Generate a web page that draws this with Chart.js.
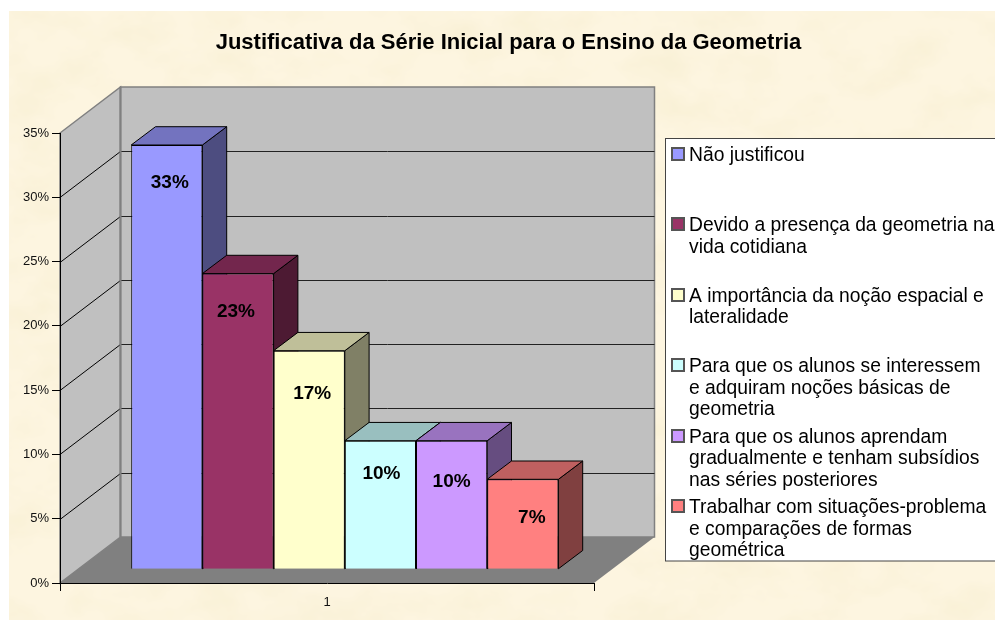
<!DOCTYPE html>
<html>
<head>
<meta charset="utf-8">
<title>Justificativa da Série Inicial</title>
<script src="https://cdn.jsdelivr.net/npm/chart.js@4"></script>
<style>
html, body { margin: 0; padding: 0; background: #fff; overflow: hidden; }
#paper {
    position: absolute; left: 9px; top: 11px; width: 986px; height: 609px;
    background-color: #fdf5e0;
    background-image: url("data:image/svg+xml,%3Csvg xmlns='http://www.w3.org/2000/svg' width='986' height='609'%3E%3Cfilter id='n'%3E%3CfeTurbulence type='fractalNoise' baseFrequency='0.016 0.024' numOctaves='4' seed='7'/%3E%3CfeColorMatrix values='0 0 0 0 0.95 0 0 0 0 0.88 0 0 0 0 0.68 2.4 0 0 0 -1'/%3E%3C/filter%3E%3Crect width='986' height='609' filter='url(%23n)'/%3E%3C/svg%3E");
}
#myChart { position: absolute; left: 0; top: 0; }
</style>
</head>
<body>
<div id="paper"></div>
<canvas id="myChart" width="995" height="621"></canvas>
<script>
// dados
const categories = ['1'];
const legendLines = [
    ['Não justificou'],
    ['Devido a presença da geometria na', 'vida cotidiana'],
    ['A importância da noção espacial e', 'lateralidade'],
    ['Para que os alunos se interessem', 'e adquiram noções básicas de', 'geometria'],
    ['Para que os alunos aprendam', 'gradualmente e tenham subsídios', 'nas séries posteriores'],
    ['Trabalhar com situações-problema', 'e comparações de formas', 'geométrica'],
];
const seriesValues = [33, 23, 17, 10, 10, 7];
const seriesColors = ['#9999ff', '#993366', '#ffffcc', '#ccffff', '#cc99ff', '#ff8080'];
const titleText = 'Justificativa da Série Inicial para o Ensino da Geometria';

// posição dos rótulos em cada barra (dx, dy a partir do topo)
const labelNudge = [[3, 37.5], [-2, 38], [3, 43], [1, 33], [0, 41.5], [9, 38]];

// perspectiva
const WALL_DX = 60.5, WALL_DY = 46;
const BAR_DX = 17.8, BAR_DY = 13.7;
const DEPTH_DX = 24.3, DEPTH_DY = 18.3;

function shade(hex, f) {
    const n = parseInt(hex.slice(1), 16);
    const c = [n >> 16, (n >> 8) & 255, n & 255].map(function (v) { return Math.round(v * f); });
    return 'rgb(' + c.join(',') + ')';
}

function poly(ctx, pts, fill, stroke, lw) {
    ctx.beginPath();
    pts.forEach(function (p, i) {
        if (i === 0) ctx.moveTo(p[0], p[1]); else ctx.lineTo(p[0], p[1]);
    });
    ctx.closePath();
    if (fill) { ctx.fillStyle = fill; ctx.fill(); }
    if (stroke) { ctx.strokeStyle = stroke; ctx.lineWidth = lw; ctx.stroke(); }
}

const box3d = {
    id: 'box3d',
    // paredes e chão
    beforeDraw(chart) {
        const ctx = chart.ctx, a = chart.chartArea, y = chart.scales.y;
        const L = a.left, R = a.right, T = a.top, B = a.bottom;
        ctx.save();
        poly(ctx, [[L, T], [L + WALL_DX, T - WALL_DY], [L + WALL_DX, B - WALL_DY], [L, B]], '#c0c0c0', '#808080', 1.5);
        poly(ctx, [[L + WALL_DX, T - WALL_DY], [R + WALL_DX, T - WALL_DY], [R + WALL_DX, B - WALL_DY], [L + WALL_DX, B - WALL_DY]], '#c0c0c0', '#808080', 1.5);
        poly(ctx, [[L, B], [R, B], [R + WALL_DX, B - WALL_DY], [L + WALL_DX, B - WALL_DY]], '#808080');
        y.ticks.forEach(function (t) {
            if (t.value === y.min || t.value === y.max) return;
            const py = Math.round(y.getPixelForValue(t.value)) + 0.5;
            ctx.lineWidth = 1;
            ctx.strokeStyle = '#000';
            ctx.beginPath();
            ctx.moveTo(L, py);
            ctx.lineTo(L + WALL_DX, py - WALL_DY);
            ctx.stroke();
            ctx.strokeStyle = '#222';
            ctx.beginPath();
            ctx.moveTo(L + WALL_DX, py - WALL_DY);
            ctx.lineTo(R + WALL_DX, py - WALL_DY);
            ctx.stroke();
        });
        ctx.strokeStyle = '#808080';
        ctx.lineWidth = 2;
        ctx.beginPath();
        ctx.moveTo(L + WALL_DX, T - WALL_DY);
        ctx.lineTo(L + WALL_DX, B - WALL_DY);
        ctx.stroke();
        ctx.restore();
    },
    // faces de cima e do lado; a frente é desenhada pelo próprio Chart.js
    beforeDatasetsDraw(chart) {
        const ctx = chart.ctx;
        ctx.save();
        ctx.translate(BAR_DX, -BAR_DY);
        chart.data.datasets.forEach(function (ds, i) {
            const el = chart.getDatasetMeta(i).data[0];
            const l = el.x - el.width / 2, r = el.x + el.width / 2, t = el.y, b = el.base;
            const color = seriesColors[i];
            poly(ctx, [[r, t], [r + DEPTH_DX, t - DEPTH_DY], [r + DEPTH_DX, b - DEPTH_DY], [r, b]], shade(color, 0.5), '#000', 1);
            poly(ctx, [[l, t], [l + DEPTH_DX, t - DEPTH_DY], [r + DEPTH_DX, t - DEPTH_DY], [r, t]], shade(color, 0.75), '#000', 1);
        });
    },
    afterDatasetsDraw(chart) {
        const ctx = chart.ctx;
        ctx.restore();
        ctx.save();
        ctx.fillStyle = '#000';
        ctx.font = 'bold 19px "Liberation Sans"';
        ctx.textAlign = 'center';
        ctx.textBaseline = 'middle';
        chart.data.datasets.forEach(function (ds, i) {
            const el = chart.getDatasetMeta(i).data[0];
            ctx.fillText(ds.data[0] + '%', el.x + BAR_DX + labelNudge[i][0], el.y - BAR_DY + labelNudge[i][1]);
        });
        ctx.restore();
    },
    // título e legenda
    afterDraw(chart) {
        const ctx = chart.ctx;
        ctx.save();
        ctx.fillStyle = '#000';
        ctx.font = 'bold 22px "Liberation Sans"';
        ctx.textAlign = 'center';
        ctx.textBaseline = 'middle';
        ctx.fillText(titleText, 508.5, 42.5);

        ctx.fillStyle = '#fff';
        ctx.fillRect(666, 139, 340, 422);
        ctx.strokeStyle = '#444';
        ctx.lineWidth = 1;
        ctx.strokeRect(665.5, 138.5, 340, 422.5);

        ctx.font = '19.3px "Liberation Sans"';
        ctx.textAlign = 'left';
        legendLines.forEach(function (lines, i) {
            const cy = 153.7 + 70.5 * i;
            ctx.fillStyle = seriesColors[i];
            ctx.fillRect(672, Math.round(cy) - 6, 12, 12);
            ctx.strokeStyle = '#555';
            ctx.lineWidth = 2;
            ctx.strokeRect(672, Math.round(cy) - 6, 12, 12);
            ctx.fillStyle = '#000';
            lines.forEach(function (line, j) {
                ctx.fillText(line, 689, cy + 1.5 + j * 21.6);
            });
        });
        ctx.restore();
    }
};

const ctx = document.getElementById('myChart').getContext('2d');

const myChart = new Chart(ctx, {
    type: 'bar',
    data: {
        labels: categories,
        datasets: legendLines.map(function (lines, i) {
            return {
                label: lines.join(' '),
                data: [seriesValues[i]],
                backgroundColor: seriesColors[i],
                borderColor: '#000',
                borderWidth: 1,
                categoryPercentage: 0.8,
                barPercentage: 1,
            };
        }),
    },
    options: {
        responsive: false,
        animation: false,
        layout: { padding: { left: 0, right: 401, top: 133, bottom: 0 } },
        plugins: {
            legend: { display: false },
            title: { display: false },
            tooltip: { enabled: false },
        },
        scales: {
            x: {
                offset: true,
                afterFit: function (scale) { scale.height = 38; },
                border: { color: '#000', width: 1 },
                grid: { offset: true, drawOnChartArea: false, tickLength: 8, tickColor: '#000' },
                ticks: { color: '#111', font: { family: 'Liberation Sans', size: 13 }, padding: 4 },
            },
            y: {
                min: 0,
                max: 35,
                afterFit: function (scale) { scale.width = 60; },
                border: { color: '#000', width: 1 },
                grid: { drawOnChartArea: false, tickLength: 8, tickColor: '#000' },
                ticks: {
                    stepSize: 5,
                    padding: 3,
                    color: '#111',
                    font: { family: 'Liberation Sans', size: 13 },
                    callback: function (value) { return value + '%'; },
                },
            },
        },
    },
    plugins: [box3d],
});
</script>
</body>
</html>
